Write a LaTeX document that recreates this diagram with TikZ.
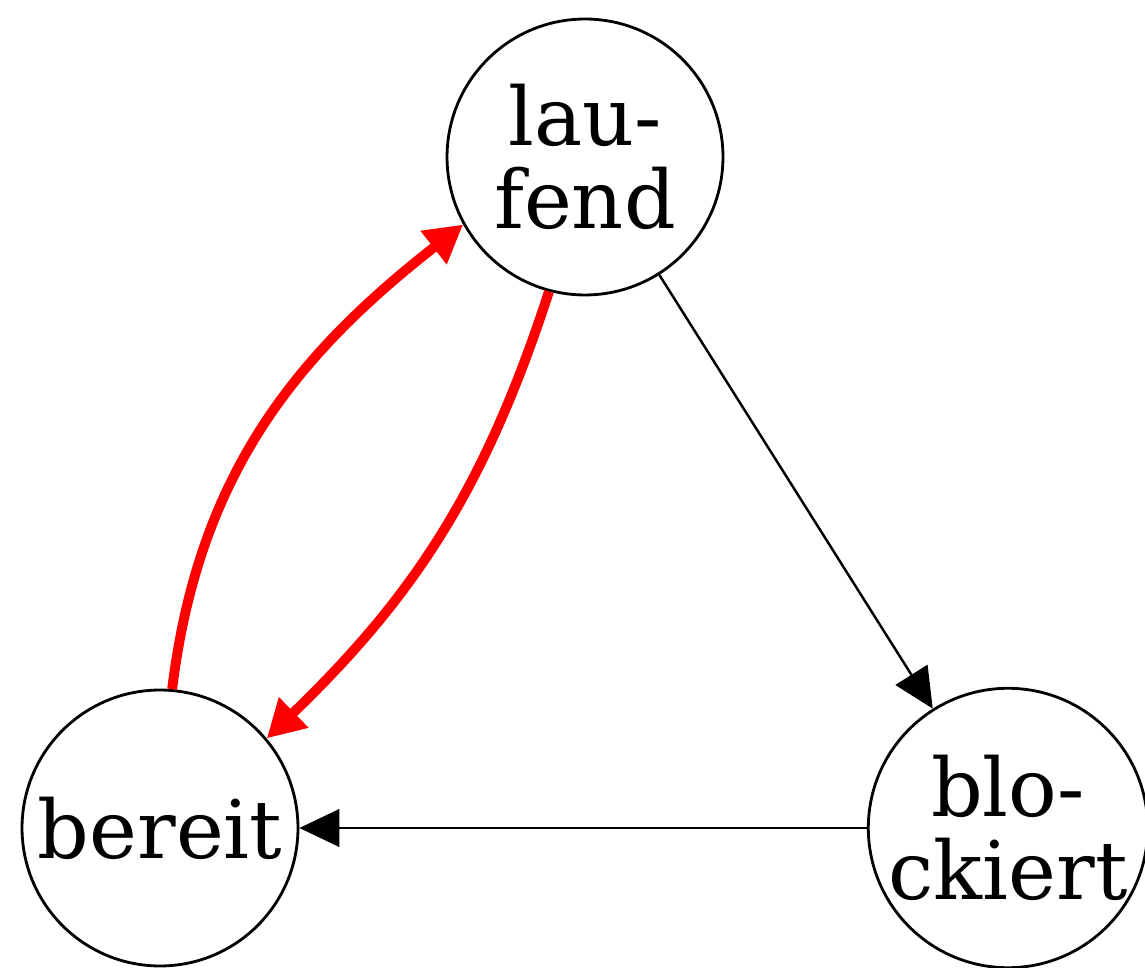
\documentclass[tikz,border=0pt]{standalone}
\usepackage{fontspec}
\setmainfont{DejaVu Serif}
\usetikzlibrary{arrows.meta}
\tikzset{
  state/.style={circle,draw=black,line width=1.6pt,minimum size=5.52cm,inner sep=0pt,align=center,font=\fontsize{46}{47}\selectfont},
  blackedge/.style={draw=black,line width=1.4pt,-{Triangle[length=0.8cm,width=0.75cm]}},
  rededge/.style={draw=red,line width=5.6pt,-{Triangle[length=0.75cm,width=0.8cm]}}
}
\begin{document}
\begin{tikzpicture}[x=0.02cm,y=0.02cm]
\useasboundingbox (0,0) rectangle (1145,967);
\node[state] (laufend) at (585,810) {lau-\\fend};
\node[state] (bereit) at (160,139) {bereit};
\node[state] (blockiert) at (1008,139) {blo-\\ckiert};
\draw[blackedge] (laufend) -- (blockiert);
\draw[blackedge] (blockiert) -- (bereit);
\draw[rededge] (bereit.85) to[out=83,in=218] (laufend.209);
\draw[rededge] (laufend.255) to[out=252,in=44] (bereit.40);
\end{tikzpicture}
\end{document}
